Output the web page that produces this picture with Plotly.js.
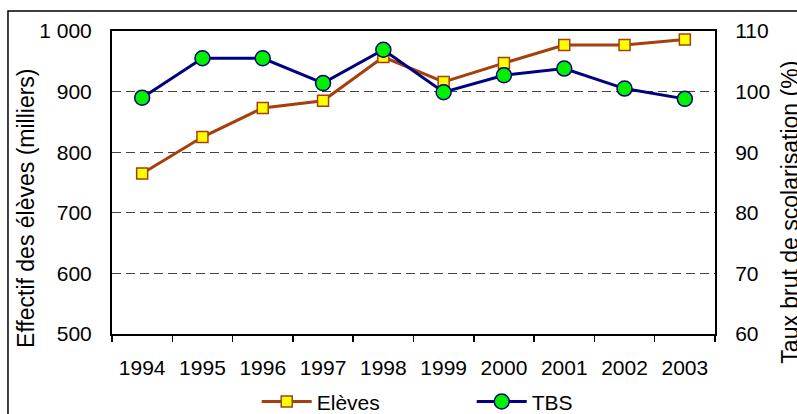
<!DOCTYPE html>
<html>
<head>
<meta charset="utf-8">
<script src="https://cdn.plot.ly/plotly-3.0.1.min.js"></script>
<style>html,body{margin:0;padding:0;background:#fff}#chart{width:797px;height:414px}</style>
</head>
<body>
<div id="chart"></div>
<script>
var years = ["1994","1995","1996","1997","1998","1999","2000","2001","2002","2003"];
var eleves = [765, 825, 873, 885, 957, 916, 947, 977, 977, 986];
var tbs = [99.0, 105.5, 105.5, 101.4, 106.9, 99.9, 102.7, 103.8, 100.5, 98.8];
var leftTickVals = [500, 600, 700, 800, 900, 1000];
var leftTickText = ["500", "600", "700", "800", "900", "1 000"];
var rightTickVals = [60, 70, 80, 90, 100, 110];
var rightTickText = ["60", "70", "80", "90", "100", "110"];

var font = {family: "Liberation Sans, Arial, sans-serif", size: 21, color: "#000"};

var traces = [
  {
    x: years, y: eleves, name: "Elèves", type: "scatter", mode: "lines+markers",
    yaxis: "y",
    line: {color: "#A5400C", width: 3},
    marker: {symbol: "square", size: 11, color: "#FFFF00", line: {color: "#A5400C", width: 1.5}}
  },
  {
    x: years, y: tbs, name: "TBS", type: "scatter", mode: "lines+markers",
    yaxis: "y2",
    line: {color: "#000080", width: 3},
    marker: {symbol: "circle", size: 15, color: "#00F000", line: {color: "#000080", width: 1.5}}
  }
];

var layout = {
  width: 797, height: 414,
  margin: {l: 112, r: 82, t: 31, b: 80, autoexpand: false},
  paper_bgcolor: "#fff", plot_bgcolor: "#fff",
  font: font,
  showlegend: true,
  legend: {orientation: "h", x: 0.24, xanchor: "left", y: -0.224, yanchor: "middle",
           font: font, itemwidth: 50, entrywidth: 150, entrywidthmode: "pixels",
           bgcolor: "rgba(0,0,0,0)"},
  xaxis: {
    type: "category", range: [-0.5, 9.5], tickson: "boundaries",
    ticks: "outside", ticklen: 6, tickwidth: 1.5, tickcolor: "#000",
    showline: true, linecolor: "#000", linewidth: 2, mirror: true,
    showgrid: false, tickfont: font, fixedrange: true, automargin: false,
    ticklabelstandoff: 14
  },
  yaxis: {
    range: [500, 1000], tickvals: leftTickVals, ticktext: leftTickText,
    ticks: "", showline: true, linecolor: "#000", linewidth: 2,
    showgrid: true, gridcolor: "#444", gridwidth: 1, griddash: "9px,5px",
    zeroline: false, tickfont: font, ticklabelstandoff: 14, automargin: false
  },
  yaxis2: {
    range: [60, 110], tickvals: rightTickVals, ticktext: rightTickText,
    overlaying: "y", side: "right",
    ticks: "", showline: true, linecolor: "#000", linewidth: 2,
    showgrid: false, zeroline: false, tickfont: font, ticklabelstandoff: 14, automargin: false
  },
  annotations: [
    {text: "Effectif des élèves (milliers)", xref: "paper", yref: "paper",
     x: -0.1426, y: 0.416, xanchor: "center", yanchor: "middle", textangle: -90,
     showarrow: false, font: {family: font.family, size: 23, color: "#000"}},
    {text: "Taux brut de scolarisation (%)", xref: "paper", yref: "paper",
     x: 1.124, y: 0.403, xanchor: "center", yanchor: "middle", textangle: -90,
     showarrow: false, font: {family: font.family, size: 23, color: "#000"}}
  ],
  shapes: [
    {type: "rect", xref: "paper", yref: "paper", x0: -0.1725, x1: 1.2, y0: -0.3, y1: 1.066,
     line: {color: "#000", width: 1.5}, fillcolor: "rgba(0,0,0,0)"}
  ]
};

Plotly.newPlot("chart", traces, layout, {staticPlot: true, displayModeBar: false});
</script>
</body>
</html>
